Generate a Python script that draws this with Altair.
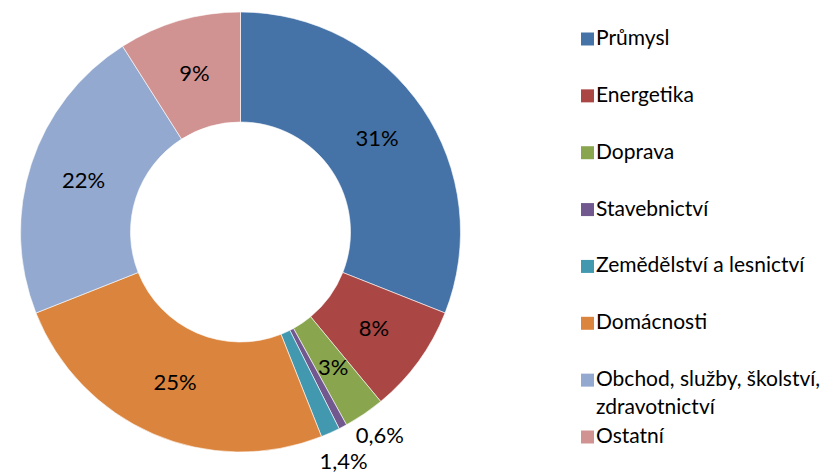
import altair as alt
import pandas as pd

categories = [
    "Průmysl",
    "Energetika",
    "Doprava",
    "Stavebnictví",
    "Zemědělství a lesnictví",
    "Domácnosti",
    "Obchod, služby, školství, zdravotnictví",
    "Ostatní",
]
shares = [31, 8, 3, 0.6, 1.4, 25, 22, 9]
colors = ["#4572A7", "#AA4643", "#89A54E", "#71588F", "#4198AF", "#DB843D", "#93A9CF", "#D19392"]

FONT = "Lato"
FS = 22
FS_LEG = 21

df = pd.DataFrame({
    "idx": list(range(len(categories))),
    "category": categories,
    "share": shares,
    "label": [f"{v:g}%".replace(".", ",") for v in shares],
    "legend_label": [c.replace("školství, ", "školství,\n") for c in categories],
})

CX, CY = 232.5, 224
R_IN, R_OUT = 110, 220

color = alt.Color("category:N", scale=alt.Scale(domain=categories, range=colors), legend=None)

base = alt.Chart(df)

arc = base.mark_arc(innerRadius=R_IN, outerRadius=R_OUT, stroke="white", strokeWidth=0.6).encode(
    theta=alt.Theta("share:Q", stack=True),
    order=alt.Order("idx:Q"),
    color=color,
    x=alt.value(CX),
    y=alt.value(CY),
)

mid = base.transform_window(
    cum="sum(share)", sort=[alt.SortField("idx")], frame=[None, 0]
).transform_calculate(mid="datum.cum - datum.share / 2")

theta_mid = alt.Theta("mid:Q", scale=alt.Scale(domain=[0, 100]), stack=None)

inner_labels = mid.transform_filter("datum.share >= 2").mark_text(
    radius=(R_IN + R_OUT) / 2, font=FONT, fontSize=FS, color="black"
).encode(theta=theta_mid, text="label:N", x=alt.value(CX), y=alt.value(CY))

out_a = mid.transform_filter("datum.category == 'Stavebnictví'").mark_text(
    radius=252, font=FONT, fontSize=FS, color="black", dx=22, dy=-19
).encode(theta=theta_mid, text="label:N", x=alt.value(CX), y=alt.value(CY))

out_b = mid.transform_filter("datum.category == 'Zemědělství a lesnictví'").mark_text(
    radius=252, font=FONT, fontSize=FS, color="black"
).encode(theta=theta_mid, text="label:N", x=alt.value(CX), y=alt.value(CY))

ly = alt.Y("category:N", sort=categories,
           scale=alt.Scale(type="point", range=[31, 429], padding=0), axis=None)

leg_sq = base.mark_square(size=169, opacity=1).encode(
    y=ly, x=alt.value(579.5), color=color
)
leg_tx = base.mark_text(
    align="left", baseline="middle", font=FONT, fontSize=FS_LEG, color="black",
    lineBreak="\n", lineHeight=28
).encode(y=ly, x=alt.value(588), text="legend_label:N")

chart = alt.layer(arc, inner_labels, out_a, out_b, leg_sq, leg_tx).properties(
    width=800, height=460, padding=0
).configure_view(stroke=None)

chart.save("out.html", embed_options={"renderer": "svg", "actions": False})
